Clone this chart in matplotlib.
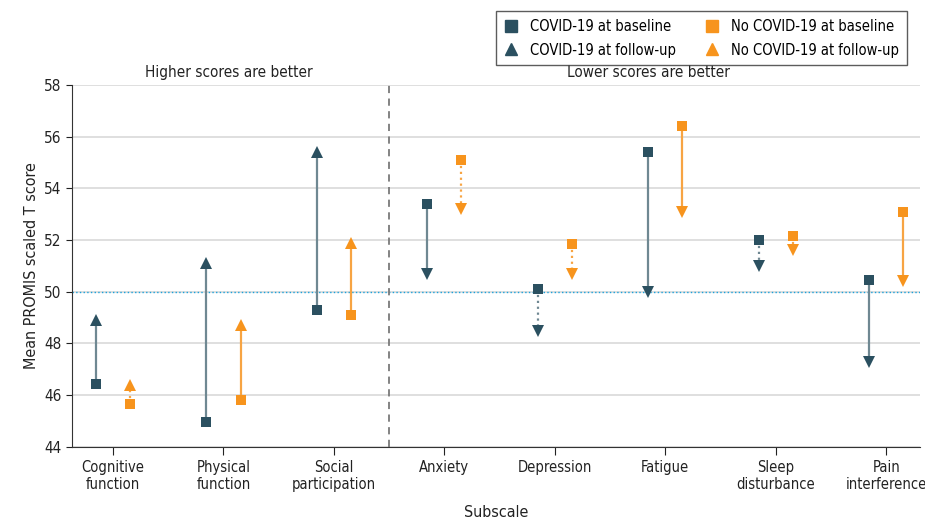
import matplotlib
matplotlib.use('Agg')
import matplotlib.pyplot as plt
import numpy as np

plt.rcParams['font.family'] = ['DejaVu Sans']
plt.rcParams['font.stretch'] = 'condensed'

subscales = ['Cognitive\nfunction', 'Physical\nfunction', 'Social\nparticipation', 'Anxiety',
             'Depression', 'Fatigue', 'Sleep\ndisturbance', 'Pain\ninterference']
covid_base = [46.45, 44.95, 49.3, 53.4, 50.1, 55.4, 52.0, 50.45]
covid_follow = [48.9, 51.1, 55.4, 50.7, 48.5, 50.0, 51.0, 47.3]
nocovid_base = [45.65, 45.8, 49.1, 55.1, 51.85, 56.4, 52.15, 53.1]
nocovid_follow = [46.4, 48.7, 51.9, 53.2, 50.7, 53.1, 51.6, 50.4]
# True = significant change (solid line), False = dotted
covid_sig = [True, True, True, True, False, True, False, True]
nocovid_sig = [False, True, True, False, False, True, False, True]

dark = '#2b5060'
dark_line = '#6f8892'
orange = '#f7941d'
orange_line = '#f7a443'

fig = plt.figure(figsize=(9.25, 5.22), dpi=100)
ax = fig.add_axes([0.078, 0.144, 0.917, 0.693])

x = np.arange(len(subscales))
off = 0.155

def draw(xs, base, follow, sig, mcol, lcol):
    for xi, b, f, s in zip(xs, base, follow, sig):
        ls = '-' if s else ':'
        ax.plot([xi, xi], [b, f], color=lcol, lw=1.6, ls=ls, zorder=2)
        ax.plot(xi, f, marker='^' if f > b else 'v', color=mcol, ms=8.5, mew=0, ls='none', zorder=3)
        ax.plot(xi, b, marker='s', color=mcol, ms=7, mew=0, ls='none', zorder=3)

draw(x - off, covid_base, covid_follow, covid_sig, dark, dark_line)
draw(x + off, nocovid_base, nocovid_follow, nocovid_sig, orange, orange_line)

ax.axhline(50, color='#1aa3dd', lw=1, ls=':', zorder=1)
ax.axvline(2.5, color='#7a7a7a', lw=1.3, ls=(0, (4, 3)), zorder=1)

ax.set_xlim(-0.37, 7.31)
ax.set_ylim(44, 58)
ax.set_yticks(np.arange(44, 59, 2))
ax.set_xticks(x)
ax.set_xticklabels(subscales, fontsize=10.5, color='#222222')
ax.tick_params(axis='y', labelsize=11, colors='#222222', length=4)
ax.tick_params(axis='x', length=6, colors='#222222')
ax.yaxis.grid(True, color='#dcdcdc', lw=1.3, zorder=0)
ax.set_axisbelow(True)
for s in ['top', 'right']:
    ax.spines[s].set_visible(False)
for s in ['left', 'bottom']:
    ax.spines[s].set_color('#333333')

ax.set_ylabel('Mean PROMIS scaled T score', fontsize=11.5, color='#222222')
ax.set_xlabel('Subscale', fontsize=11.5, color='#222222', labelpad=9)

ax.text(0.185, 1.015, 'Higher scores are better', transform=ax.transAxes, ha='center',
        va='bottom', fontsize=11, color='#222222')
ax.text(0.68, 1.015, 'Lower scores are better', transform=ax.transAxes, ha='center',
        va='bottom', fontsize=11, color='#222222')

handles = [
    plt.Line2D([], [], marker='s', color=dark, ms=8, ls='none', label='COVID-19 at baseline'),
    plt.Line2D([], [], marker='^', color=dark, ms=9, ls='none', label='COVID-19 at follow-up'),
    plt.Line2D([], [], marker='s', color=orange, ms=8, ls='none', label='No COVID-19 at baseline'),
    plt.Line2D([], [], marker='^', color=orange, ms=9, ls='none', label='No COVID-19 at follow-up'),
]
leg = fig.legend(handles=handles, ncol=2, loc='upper right', bbox_to_anchor=(0.988, 0.992),
                 fontsize=10.5, frameon=True, fancybox=False, edgecolor='#333333',
                 handlelength=1.0, handletextpad=0.8, columnspacing=2.0, labelspacing=0.6,
                 borderpad=0.5)
leg.get_frame().set_linewidth(1)

fig.savefig('out.png', dpi=100)
